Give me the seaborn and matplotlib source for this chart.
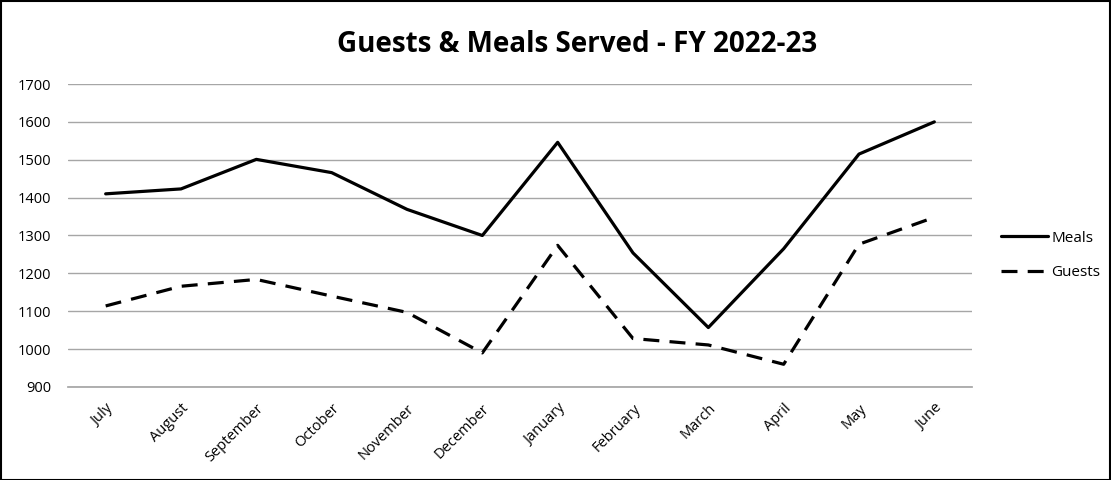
import matplotlib
matplotlib.use("Agg")
import matplotlib.pyplot as plt
import seaborn as sns
import pandas as pd
from matplotlib.patches import Rectangle

months = ["July", "August", "September", "October", "November", "December",
          "January", "February", "March", "April", "May", "June"]
meals = [1410, 1423, 1501, 1466, 1369, 1300, 1546, 1254, 1057, 1265, 1515, 1600]
guests = [1114, 1166, 1184, 1140, 1097, 990, 1274, 1028, 1011, 960, 1277, 1348]
y_ticks = [900, 1000, 1100, 1200, 1300, 1400, 1500, 1600, 1700]

df = pd.DataFrame({
    "month": months * 2,
    "value": meals + guests,
    "series": ["Meals"] * len(months) + ["Guests"] * len(months),
})
df["pos"] = list(range(len(months))) * 2

sns.set_theme(style="white")
plt.rcParams["font.family"] = ["Open Sans", "DejaVu Sans"]
plt.rcParams["text.color"] = "black"
plt.rcParams["xtick.color"] = "black"
plt.rcParams["ytick.color"] = "black"

fig = plt.figure(figsize=(11.11, 4.8), dpi=100)
ax = fig.add_axes([68 / 1111, 1 - 387 / 480, (972 - 68) / 1111, (387 - 84) / 480])

sns.lineplot(data=df, x="pos", y="value", style="series", color="black",
             dashes={"Meals": "", "Guests": (5.0, 3.2)}, linewidth=2.3,
             ax=ax, sort=False)

ax.set_xlim(-0.5, len(months) - 0.5)
ax.set_ylim(900, 1700)
ax.set_yticks(y_ticks)
ax.set_xticks(range(len(months)))
ax.set_xticklabels(months, rotation=45, ha="right", rotation_mode="anchor",
                   fontsize=10.5)
ax.tick_params(axis="y", labelsize=10.5, length=0, pad=12)
ax.tick_params(axis="x", length=0, pad=10)
ax.set_xlabel("")
ax.set_ylabel("")
ax.yaxis.grid(True, color="#a6a6a6", linewidth=1)
for side in ["left", "right", "top"]:
    ax.spines[side].set_visible(False)
ax.spines["bottom"].set_color("#a6a6a6")

handles, labels = ax.get_legend_handles_labels()
ax.legend(handles, labels, loc="center left", bbox_to_anchor=(1.017, 0.434),
          frameon=False, fontsize=11, handlelength=3.1, handletextpad=0.2,
          labelspacing=1.3)

fig.suptitle("Guests & Meals Served - FY 2022-23", x=577 / 1111, y=1 - 45 / 480,
             va="center", fontsize=20, fontweight="bold")

fig.add_artist(Rectangle((0.001, 0.001), 0.998, 0.997, transform=fig.transFigure,
                         fill=False, edgecolor="black", linewidth=1.5))

fig.savefig("out.png", dpi=100)
